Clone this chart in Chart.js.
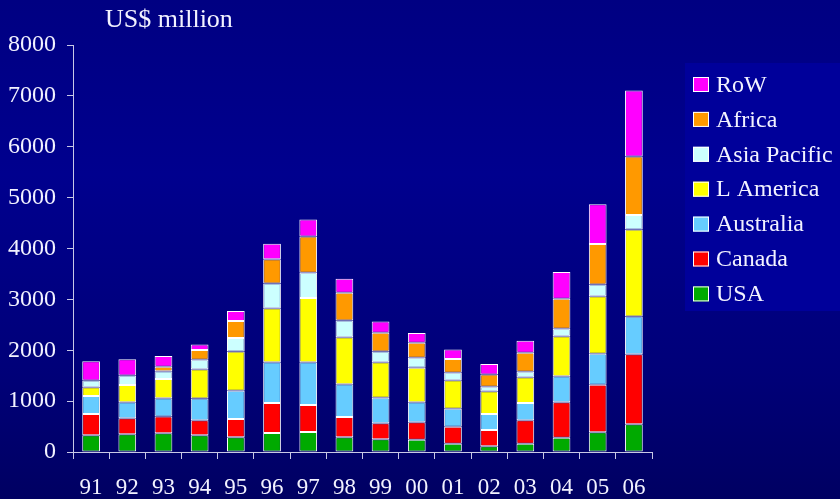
<!DOCTYPE html>
<html>
<head>
<meta charset="utf-8">
<script src="https://cdn.jsdelivr.net/npm/chart.js@4.4.0/dist/chart.umd.min.js"></script>
<style>
  html, body { margin: 0; padding: 0; }
  body { width: 840px; height: 499px; overflow: hidden;
         background: linear-gradient(to bottom, #000082 0%, #00008e 35%, #000078 75%, #000062 100%); }
  #chart { display: block; }
</style>
</head>
<body>
<canvas id="chart" width="840" height="499"></canvas>
<script>
// years along the x axis
const years = ['91','92','93','94','95','96','97','98','99','00','01','02','03','04','05','06'];

// series values, US$ million
const usa       = [330, 350, 370, 330, 290, 375, 395, 290, 250, 240, 160, 115, 160, 280, 390, 545];
const canada    = [415, 315, 330, 295, 360, 590, 530, 400, 315, 345, 335, 315, 465, 700, 930, 1375];
const australia = [355, 315, 355, 425, 555, 800, 840, 640, 500, 395, 355, 315, 340, 510, 610, 745];
const lAmerica  = [175, 335, 380, 575, 770, 1060, 1260, 925, 700, 675, 560, 450, 505, 785, 1130, 1710];
const asiaPac   = [130, 190, 150, 190, 265, 485, 500, 330, 210, 200, 150, 90, 105, 150, 230, 285];
const africa    = [0, 0, 90, 190, 335, 480, 710, 545, 370, 290, 270, 240, 375, 585, 800, 1150];
const row       = [380, 320, 210, 110, 195, 305, 335, 275, 220, 195, 185, 205, 235, 530, 780, 1295];

const yTicks = [0, 1000, 2000, 3000, 4000, 5000, 6000, 7000, 8000];

const SERIF = '"Liberation Serif", "DejaVu Serif", serif';
const TEXT_COL = '#f2f2ff';
const AXIS_COL = '#c8c8e6';

function series(label, data, color) {
    return {
        label: label,
        data: data,
        backgroundColor: color,
        borderColor: '#ffffff',
        borderWidth: 1,
        borderSkipped: false,
        categoryPercentage: 1.0,
        barPercentage: 0.49
    };
}

const datasets = [
    series('USA', usa, '#00aa00'),
    series('Canada', canada, '#ff0000'),
    series('Australia', australia, '#66ccff'),
    series('L America', lAmerica, '#ffff00'),
    series('Asia Pacific', asiaPac, '#ccffff'),
    series('Africa', africa, '#ff9900'),
    series('RoW', row, '#ff00ff')
];

// draws the unit title and the boxed legend (RoW on top)
const decorPlugin = {
    id: 'decor',
    afterDraw(chart) {
        const ctx = chart.ctx;
        ctx.save();
        ctx.fillStyle = TEXT_COL;
        ctx.font = '26px ' + SERIF;
        ctx.textAlign = 'left';
        ctx.textBaseline = 'middle';
        ctx.fillText('US$ million', 105, 20);

        // legend box
        ctx.fillStyle = '#00009a';
        ctx.fillRect(685, 63, 155, 248);

        const sets = chart.data.datasets.slice().reverse();
        ctx.font = '24px ' + SERIF;
        sets.forEach((ds, i) => {
            const cy = 84.5 + i * 34.9;
            ctx.fillStyle = ds.backgroundColor;
            ctx.fillRect(693, cy - 7.5, 16, 15);
            ctx.strokeStyle = '#ffffff';
            ctx.lineWidth = 1;
            ctx.strokeRect(693.5, cy - 7, 15, 14);
            ctx.fillStyle = TEXT_COL;
            ctx.fillText(ds.label, 716, cy + 1);
        });
        ctx.restore();
    }
};

const ctx = document.getElementById('chart').getContext('2d');
new Chart(ctx, {
    type: 'bar',
    data: { labels: years, datasets: datasets },
    options: {
        responsive: false,
        animation: false,
        layout: { padding: { top: 45, right: 188, left: 0, bottom: 0 } },
        plugins: {
            legend: { display: false },
            tooltip: { enabled: false }
        },
        scales: {
            x: {
                stacked: true,
                afterFit: (scale) => { scale.height = 47; },
                grid: { display: true, drawOnChartArea: false, drawTicks: true, tickLength: 7, color: AXIS_COL, offset: true },
                border: { display: true, color: AXIS_COL, width: 1 },
                ticks: { color: TEXT_COL, font: { family: SERIF, size: 23 }, padding: 15, maxRotation: 0 }
            },
            y: {
                stacked: true,
                min: 0,
                max: 8000,
                afterFit: (scale) => { scale.width = 73; },
                afterBuildTicks: (scale) => { scale.ticks = yTicks.map(v => ({ value: v })); },
                grid: { display: true, drawOnChartArea: false, drawTicks: true, tickLength: 6, color: AXIS_COL },
                border: { display: true, color: AXIS_COL, width: 1 },
                ticks: {
                    color: TEXT_COL,
                    font: { family: SERIF, size: 24 },
                    padding: 11,
                    callback: (value) => String(value)
                }
            }
        }
    },
    plugins: [decorPlugin]
});
</script>
</body>
</html>
